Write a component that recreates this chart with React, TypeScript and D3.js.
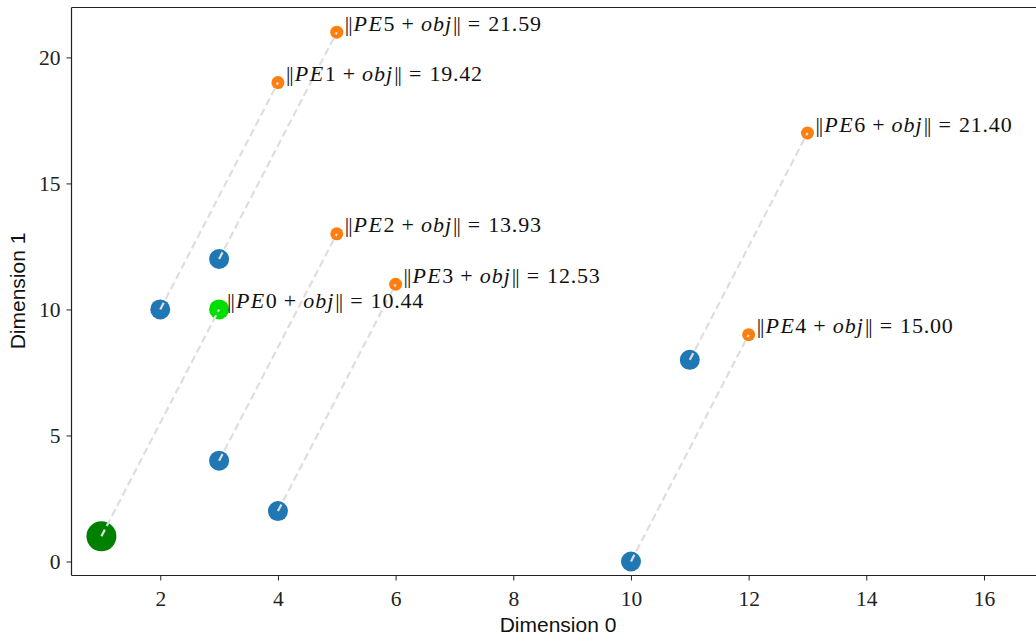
import React, { useEffect, useRef } from "react";
import * as d3 from "d3";

// PE points (blue), first one is drawn as the big dark-green marker
const peNames = ["PE0", "PE1", "PE2", "PE3", "PE4", "PE5", "PE6"];
const peX = [1, 2, 3, 4, 10, 3, 11];
const peY = [1, 10, 4, 2, 0, 12, 8];
// PE + obj points (orange), first one highlighted in light green
const sumX = [3, 4, 5, 6, 12, 5, 13];
const sumY = [10, 19, 13, 11, 9, 21, 17];
const norms = ["10.44", "19.42", "13.93", "12.53", "15.00", "21.59", "21.40"];

const xTicks = [2, 4, 6, 8, 10, 12, 14, 16];
const yTicks = [0, 5, 10, 15, 20];

const W = 1036;
const H = 641;

export default function App() {
  const ref = useRef<SVGSVGElement>(null);

  useEffect(() => {
    const svg = d3.select(ref.current);
    svg.selectAll("*").remove();

    const x = d3.scaleLinear().domain([0.5, 17.02]).range([72, 1044]);
    const y = d3.scaleLinear().domain([-0.556, 21.98]).range([575.5, 7.5]);

    const serif = "'Liberation Serif', 'Times New Roman', serif";
    const sans = "'Liberation Sans', Arial, sans-serif";

    // axes
    const xAxis = d3
      .axisBottom(x)
      .tickValues(xTicks)
      .tickSize(5)
      .tickPadding(6)
      .tickFormat((d) => String(d));
    const yAxis = d3
      .axisLeft(y)
      .tickValues(yTicks)
      .tickSize(5)
      .tickPadding(6)
      .tickFormat((d) => String(d));

    const gx = svg.append("g").attr("transform", `translate(0,575.5)`).call(xAxis);
    const gy = svg.append("g").attr("transform", `translate(71.5,0)`).call(yAxis);
    [gx, gy].forEach((g) => {
      g.select(".domain").remove();
      g.selectAll(".tick line").attr("stroke", "#222").attr("stroke-width", 1);
      g.selectAll(".tick text")
        .attr("font-family", serif)
        .attr("font-size", 21.5)
        .attr("fill", "#222");
    });
    gx.selectAll(".tick text").attr("dy", "0.92em");

    // spines
    const sp = svg.append("g").attr("stroke", "#222").attr("stroke-width", 1.2).attr("fill", "none");
    sp.append("line").attr("x1", 71.5).attr("x2", 71.5).attr("y1", 7.5).attr("y2", 575.5);
    sp.append("line").attr("x1", 71.5).attr("x2", 1044).attr("y1", 575.5).attr("y2", 575.5);
    sp.append("line").attr("x1", 71.5).attr("x2", 1044).attr("y1", 7.5).attr("y2", 7.5);

    const idx = d3.range(peX.length);

    // blue PE points
    svg
      .append("g")
      .selectAll("circle")
      .data(idx)
      .join("circle")
      .attr("cx", (i) => x(peX[i]))
      .attr("cy", (i) => y(peY[i]))
      .attr("r", (i) => (i === 0 ? 15 : 10))
      .attr("fill", (i) => (i === 0 ? "#008000" : "#1f77b4"));

    // orange PE+obj points
    svg
      .append("g")
      .selectAll("circle")
      .data(idx)
      .join("circle")
      .attr("cx", (i) => x(sumX[i]))
      .attr("cy", (i) => y(sumY[i]))
      .attr("r", (i) => (i === 0 ? 10 : 6.5))
      .attr("fill", (i) => (i === 0 ? "#00dd00" : "#ff7f0e"));

    // dashed connectors
    svg
      .append("g")
      .selectAll("line")
      .data(idx)
      .join("line")
      .attr("x1", (i) => x(peX[i]))
      .attr("y1", (i) => y(peY[i]))
      .attr("x2", (i) => x(sumX[i]))
      .attr("y2", (i) => y(sumY[i]))
      .attr("stroke", "#dedede")
      .attr("stroke-width", 2.2)
      .attr("stroke-dasharray", "7.5 4");

    // annotations
    const ann = svg
      .append("g")
      .selectAll("text")
      .data(idx)
      .join("text")
      .attr("x", (i) => x(sumX[i]) + 8)
      .attr("y", (i) => y(sumY[i]) - 1.5)
      .attr("font-family", serif)
      .attr("font-size", 22)
      .attr("fill", "#111");
    ann.each(function (i) {
      const t = d3.select(this);
      const name = peNames[i];
      t.append("tspan").attr("letter-spacing", -1).text("||");
      t.append("tspan").attr("dx", 2).attr("font-style", "italic").attr("letter-spacing", 1.5).text(name.slice(0, 2));
      t.append("tspan").text(name.slice(2));
      t.append("tspan").attr("dx", 7).text("+");
      t.append("tspan").attr("dx", 7).attr("font-style", "italic").attr("letter-spacing", 1).text("obj");
      t.append("tspan").attr("dx", 1).attr("letter-spacing", -1).text("||");
      t.append("tspan").attr("dx", 8).text("=");
      t.append("tspan").attr("dx", 8).attr("letter-spacing", 0.8).text(norms[i]);
    });

    // axis labels
    svg
      .append("text")
      .attr("x", 558)
      .attr("y", 632)
      .attr("text-anchor", "middle")
      .attr("font-family", sans)
      .attr("font-size", 21)
      .attr("fill", "#111")
      .text("Dimension 0");
    svg
      .append("text")
      .attr("transform", `translate(25,291) rotate(-90)`)
      .attr("text-anchor", "middle")
      .attr("font-family", sans)
      .attr("font-size", 21)
      .attr("fill", "#111")
      .text("Dimension 1");
  }, []);

  return (
    <svg
      ref={ref}
      width={W}
      height={H}
      style={{ position: "absolute", left: 0, top: 0, background: "#fff" }}
    />
  );
}
